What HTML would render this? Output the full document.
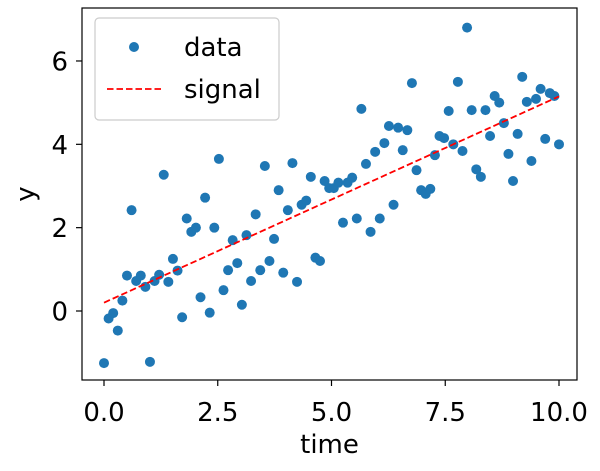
<!DOCTYPE html>
<html><head><meta charset="utf-8"><style>
body{margin:0;background:#fff;}
svg{display:block;font-family:"DejaVu Sans","Liberation Sans",sans-serif;}
</style></head><body>
<svg id="chart" width="600" height="471"></svg>
<script>
const times=[];for(let i=0;i<100;i++)times.push(i*10/99);
const yValues=[-1.25,-0.18,-0.05,-0.47,0.25,0.85,2.42,0.72,0.85,0.58,-1.22,0.72,0.87,3.27,0.70,1.25,0.97,-0.15,2.22,1.90,2.0,0.33,2.72,-0.04,2.0,3.65,0.5,0.98,1.7,1.15,0.15,1.82,0.72,2.32,0.98,3.48,1.2,1.73,2.9,0.92,2.42,3.55,0.7,2.55,2.65,3.22,1.28,1.2,3.12,2.95,2.95,3.08,2.12,3.08,3.2,2.22,4.85,3.53,1.9,3.82,2.22,4.03,4.44,2.55,4.4,3.86,4.34,5.47,3.38,2.9,2.81,2.93,3.74,4.2,4.15,4.8,4.0,5.5,3.84,6.8,4.82,3.4,3.22,4.82,4.2,5.16,5.0,4.51,3.77,3.12,4.25,5.62,5.02,3.6,5.09,5.33,4.13,5.23,5.16,4.0];
const signalStart=[0,0.2];
const signalEnd=[10,5.15];
const xTicks=[0,2.5,5,7.5,10];
const xTickLabels=["0.0","2.5","5.0","7.5","10.0"];
const yTicks=[0,2,4,6];
const yTickLabels=["0","2","4","6"];
const L=82,R=577,T=8,B=380;
const X=v=>104+v*45.5;
const Y=v=>311-v*41.67;
const svg=document.getElementById('chart');
const NS='http://www.w3.org/2000/svg';
function mk(tag,attrs,parent){const e=document.createElementNS(NS,tag);for(const k in attrs)e.setAttribute(k,attrs[k]);(parent||svg).appendChild(e);return e;}
const frame=mk('rect',{x:L,y:T,width:R-L,height:B-T,fill:'none',stroke:'#000','stroke-width':1.2});


const pts=mk('g',{});


times.forEach((t,i)=>{const c=mk('circle',{cx:X(t),cy:Y(yValues[i]),r:5,fill:'#1f77b4'},pts);

});
const sig=mk('line',{x1:X(signalStart[0]),y1:Y(signalStart[1]),x2:X(signalEnd[0]),y2:Y(signalEnd[1]),stroke:'#ff0000','stroke-width':1.8,'stroke-dasharray':'6.5,3'});


xTicks.forEach((v,i)=>{mk('line',{x1:X(v),x2:X(v),y1:B,y2:B+6,stroke:'#000','stroke-width':1.2});
const t=mk('text',{x:X(v),y:B+41,'font-size':26,'text-anchor':'middle'});t.textContent=xTickLabels[i];

});
yTicks.forEach((v,i)=>{mk('line',{x1:L-6,x2:L,y1:Y(v),y2:Y(v),stroke:'#000','stroke-width':1.2});
const t=mk('text',{x:L-14,y:Y(v)+9.5,'font-size':26,'text-anchor':'end'});t.textContent=yTickLabels[i];

});
const xt=mk('text',{x:(L+R)/2,y:453,'font-size':26,'text-anchor':'middle'});xt.textContent='time';


const yt=mk('text',{x:0,y:0,'font-size':26,'text-anchor':'middle',transform:'translate(34,194) rotate(-90)'});yt.textContent='y';


const lg=mk('g',{});


mk('rect',{x:95,y:18,width:184,height:102,rx:4,fill:'#fff','fill-opacity':0.8,stroke:'#ccc','stroke-width':1.2},lg);
mk('circle',{cx:134,cy:47,r:5,fill:'#1f77b4'},lg);
const l1=mk('text',{x:184,y:56,'font-size':26},lg);l1.textContent='data';


mk('line',{x1:107,x2:161,y1:89,y2:89,stroke:'#ff0000','stroke-width':1.8,'stroke-dasharray':'6.5,3'},lg);
const l2=mk('text',{x:184,y:98,'font-size':26},lg);l2.textContent='signal';


</script>
</body></html>
